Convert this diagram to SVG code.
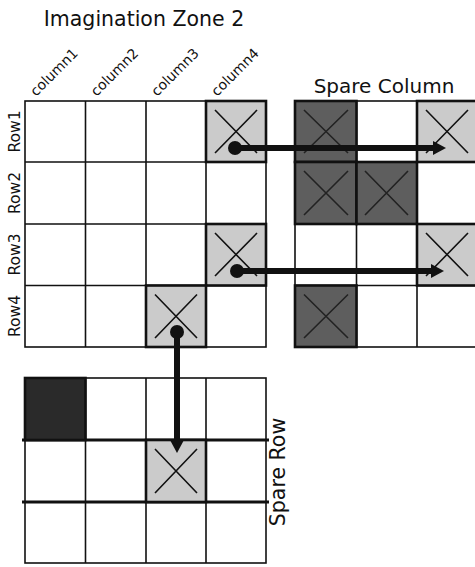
<svg xmlns="http://www.w3.org/2000/svg" width="475" height="567" viewBox="0 0 475 567">
<defs>
<style>
text{font-family:"DejaVu Sans","Liberation Sans",sans-serif;fill:#111}
.grid{fill:#fff;stroke:#111;stroke-width:1.6}
.lines{fill:none;stroke:#111;stroke-width:1.6}
.thick{fill:none;stroke:#111;stroke-width:3.2}
.light{fill:#cbcbcb;stroke:#111;stroke-width:2.6}
.dark{fill:#5e5e5e;stroke:#111;stroke-width:2.6}
.vdark{fill:#2a2a2a;stroke:#111;stroke-width:2.6}
.x{fill:none;stroke:#111;stroke-width:1.6}
.xd{fill:none;stroke:#222;stroke-width:1.6}
.arrow{fill:none;stroke:#111;stroke-width:6}
.dot{fill:#111}
</style>
<marker id="ah" markerUnits="userSpaceOnUse" markerWidth="14" markerHeight="16" refX="0" refY="8" orient="auto">
<path d="M0,1 L13,8 L0,15 Z" fill="#111"/>
</marker>
</defs>

<g id="labels">
<text x="144" y="26" font-size="20.5" text-anchor="middle">Imagination Zone 2</text>
<text x="384" y="93" font-size="20" text-anchor="middle">Spare Column</text>
<text transform="translate(285,472) rotate(-90)" font-size="20.5" text-anchor="middle">Spare Row</text>
<text transform="translate(20,131.5) rotate(-90)" font-size="15.5" text-anchor="middle">Row1</text>
<text transform="translate(20,193) rotate(-90)" font-size="15.5" text-anchor="middle">Row2</text>
<text transform="translate(20,254.5) rotate(-90)" font-size="15.5" text-anchor="middle">Row3</text>
<text transform="translate(20,316) rotate(-90)" font-size="15.5" text-anchor="middle">Row4</text>
<text transform="translate(36,97) rotate(-45)" font-size="14">column1</text>
<text transform="translate(96.5,97) rotate(-45)" font-size="14">column2</text>
<text transform="translate(157,97) rotate(-45)" font-size="14">column3</text>
<text transform="translate(217,97) rotate(-45)" font-size="14">column4</text>
</g>

<g id="main-grid">
<rect class="grid" x="25" y="101" width="241" height="246"/>
<path class="lines" d="M85.5 101V347M146 101V347M206 101V347M25 162H266M25 224H266M25 285.5H266"/>
<rect class="light" x="206" y="101" width="60" height="61"/>
<path class="x" d="M215 110L257 153M257 110L215 153"/>
<rect class="light" x="206" y="224" width="60" height="61.5"/>
<path class="x" d="M215 233L257 276M257 233L215 276"/>
<rect class="light" x="146" y="285.5" width="60" height="61.5"/>
<path class="x" d="M155 294.5L197 338M197 294.5L155 338"/>
</g>

<g id="spare-column">
<rect class="grid" x="295" y="101" width="185" height="246"/>
<path class="lines" d="M356.5 101V347M417 101V347M295 162H480M295 224H480M295 285.5H480"/>
<rect class="dark" x="295" y="101" width="61.5" height="61"/>
<path class="xd" d="M304 110L348 153M348 110L304 153"/>
<rect class="dark" x="295" y="162" width="61.5" height="62"/>
<path class="xd" d="M304 171L348 215M348 171L304 215"/>
<rect class="dark" x="356.5" y="162" width="60.5" height="62"/>
<path class="xd" d="M365 171L408 215M408 171L365 215"/>
<rect class="dark" x="295" y="285.5" width="61.5" height="61.5"/>
<path class="xd" d="M304 294.5L348 338M348 294.5L304 338"/>
<rect class="light" x="417" y="101" width="63" height="61"/>
<path class="x" d="M426 110L468 153M468 110L426 153"/>
<rect class="light" x="417" y="224" width="63" height="61.5"/>
<path class="x" d="M426 233L468 276M468 233L426 276"/>
</g>

<g id="spare-row">
<rect class="grid" x="25" y="378" width="241" height="185"/>
<path class="lines" d="M85.5 378V563M146 378V563M206 378V563"/>
<path class="thick" d="M22 440H269M22 502H269"/>
<rect class="vdark" x="25" y="378" width="60.5" height="62"/>
<rect class="light" x="146" y="440" width="60" height="62"/>
<path class="x" d="M155 449L197 493M197 449L155 493"/>
</g>

<g id="connectors">
<circle class="dot" cx="235" cy="148" r="7"/>
<path class="arrow" d="M235 148H433" marker-end="url(#ah)"/>
<circle class="dot" cx="237" cy="271" r="7"/>
<path class="arrow" d="M237 271H431" marker-end="url(#ah)"/>
<circle class="dot" cx="177" cy="332" r="7"/>
<path class="arrow" d="M177 332V440" marker-end="url(#ah)"/>
</g>
</svg>
